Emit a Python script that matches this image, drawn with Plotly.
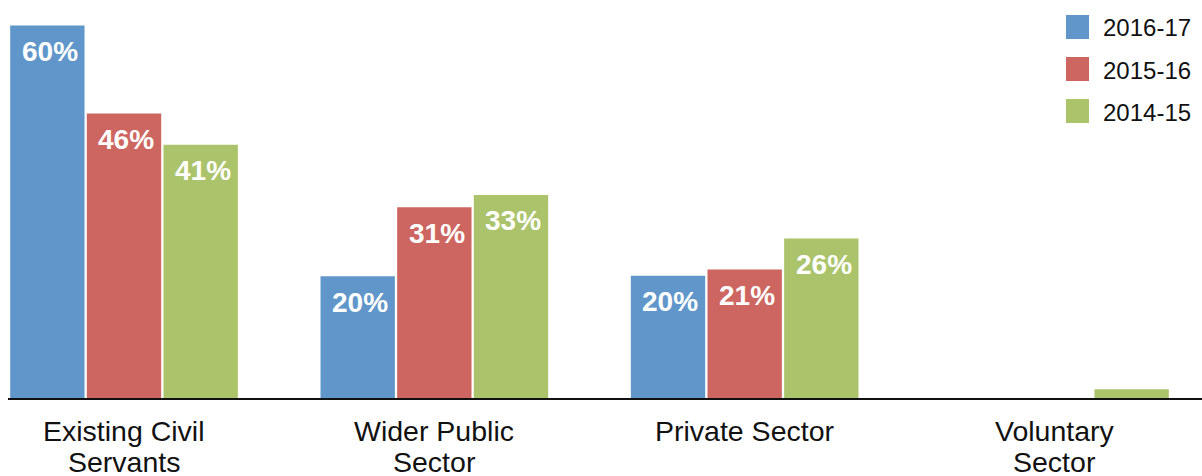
import plotly.graph_objects as go

# ---- data ----
categories = ["Existing Civil<br>Servants", "Wider Public<br>Sector", "Private Sector", "Voluntary<br>Sector"]
series_names = ["2016-17", "2015-16", "2014-15"]
values_2016_17 = [60.0, 19.6, 19.7, 0.0]
values_2015_16 = [45.8, 30.7, 20.7, 0.0]
values_2014_15 = [40.8, 32.7, 25.7, 1.4]
labels_2016_17 = ["60%", "20%", "20%", ""]
labels_2015_16 = ["46%", "31%", "21%", ""]
labels_2014_15 = ["41%", "33%", "26%", ""]

series_values = [values_2016_17, values_2015_16, values_2014_15]
series_labels = [labels_2016_17, labels_2015_16, labels_2014_15]
colors = ["#6096CA", "#CD6660", "#ABC46B"]

FONT = "Liberation Sans, Arial, sans-serif"
W, H = 1202, 476
ML, MR, MT, MB = 8, 0, 0, 78
BARGAP = 0.259
BARGROUPGAP = 0.03

fig = go.Figure()
for name, vals, col in zip(series_names, series_values, colors):
    fig.add_trace(go.Bar(
        x=list(range(len(categories))), y=vals, name=name,
        marker=dict(color=col, line=dict(width=0)),
        showlegend=False, hoverinfo="skip",
    ))

# value labels inside bars, near the top
slot = (1 - BARGAP) / len(series_names)
annotations = []
for j, (vals, labs) in enumerate(zip(series_values, series_labels)):
    off = (j - (len(series_names) - 1) / 2) * slot
    for i, (v, t) in enumerate(zip(vals, labs)):
        if not t:
            continue
        annotations.append(dict(
            x=i + off + 0.008, y=v, xref="x", yref="y", text=t, showarrow=False,
            yanchor="middle", yshift=-26,
            font=dict(family=FONT, size=28, color="white", weight="bold"),
        ))

# category labels below the axis (one annotation per line for tight line spacing)
for i, cat in enumerate(categories):
    for k, line in enumerate(cat.split("<br>")):
        annotations.append(dict(
            x=i, y=0, xref="x", yref="y", text=line, showarrow=False,
            yanchor="middle", yshift=-33 - 31 * k,
            font=dict(family=FONT, size=28.5, color="#111111"),
        ))

# manual legend (pixel positions converted to paper coords)
pw = W - ML - MR
ph = H - MT - MB
def px_x(p):
    return (p - ML) / pw
def px_y(p):
    return (H - MB - p) / ph

shapes = []
legend_rows = [(15, 39), (57, 81), (99, 123)]
for (y0, y1), name, col in zip(legend_rows, series_names, colors):
    shapes.append(dict(type="rect", xref="paper", yref="paper",
                       x0=px_x(1066), x1=px_x(1089), y0=px_y(y1), y1=px_y(y0),
                       fillcolor=col, line=dict(width=0)))
    annotations.append(dict(x=px_x(1101), y=px_y((y0 + y1) / 2 + 1), xref="paper", yref="paper",
                            text=name, showarrow=False, xanchor="left", yanchor="middle",
                            font=dict(family=FONT, size=24, color="#111111")))

fig.update_layout(
    width=W, height=H,
    margin=dict(l=ML, r=MR, t=MT, b=MB, pad=0, autoexpand=False),
    paper_bgcolor="white", plot_bgcolor="white",
    barmode="group", bargap=BARGAP, bargroupgap=BARGROUPGAP,
    font=dict(family=FONT, color="#111111"),
    xaxis=dict(
        tickmode="array", tickvals=list(range(len(categories))),
        showticklabels=False,
        range=[-(124 - ML) / 310.3, 3 + (W - MR - 1055) / 310.3],
        showline=True, linecolor="#111111", linewidth=1.5,
        ticks="", showgrid=False, zeroline=False, fixedrange=True, automargin=False,
    ),
    yaxis=dict(range=[0, ph / 6.21], visible=False, showgrid=False, zeroline=False,
               automargin=False),
    annotations=annotations, shapes=shapes,
)

fig.write_html(
    "out.html",
    config={"displayModeBar": False},
    post_script="document.body.style.margin='0';document.body.style.overflow='hidden';",
)
